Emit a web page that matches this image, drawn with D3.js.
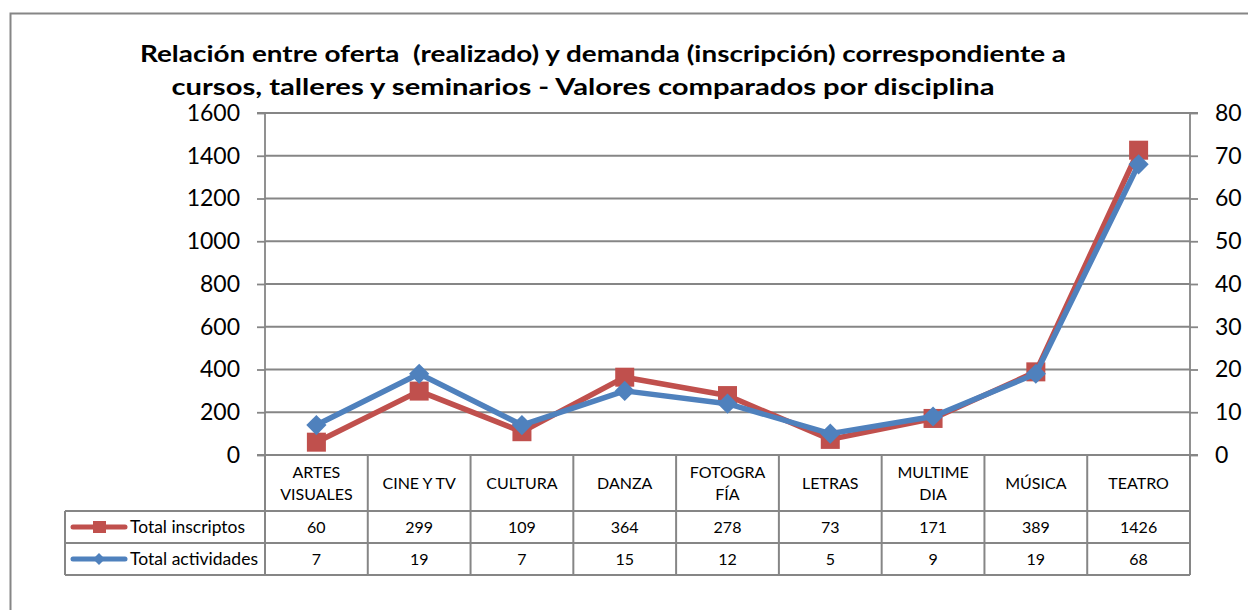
<!DOCTYPE html>
<html>
<head>
<meta charset="utf-8">
<script src="https://cdn.jsdelivr.net/npm/d3@7"></script>
<style>
  html, body { margin: 0; padding: 0; background: #fff; }
  svg { display: block; font-family: Lato, "Open Sans", sans-serif; }
  .title { white-space: pre; }
</style>
</head>
<body>
<svg id="chart" width="1248" height="610"></svg>
<script>
const categories = [["ARTES", "VISUALES"], ["CINE Y TV"], ["CULTURA"], ["DANZA"], ["FOTOGRA", "FÍA"], ["LETRAS"], ["MULTIME", "DIA"], ["MÚSICA"], ["TEATRO"]];
const inscriptos = [60, 299, 109, 364, 278, 73, 171, 389, 1426];
const actividades = [7, 19, 7, 15, 12, 5, 9, 19, 68];
const leftTicks = [0, 200, 400, 600, 800, 1000, 1200, 1400, 1600];
const rightTicks = [0, 10, 20, 30, 40, 50, 60, 70, 80];
const titleLines = ["Relación entre oferta  (realizado) y demanda (inscripción) correspondiente a", "cursos, talleres y seminarios - Valores comparados por disciplina"];
const seriesNames = ["Total inscriptos", "Total actividades"];

const svg = d3.select("#chart");
const gridColor = "#868686";
const red = "#C0504D", blue = "#4F81BD";

const L = 265, R = 1190, T = 113, B = 455;
const tableLeft = 65, headerBottom = 511, row1Bottom = 543, row2Bottom = 575;

// outer chart border
svg.append("rect").attr("x", 10.5).attr("y", 13.5).attr("width", 1300).attr("height", 700)
  .attr("fill", "none").attr("stroke", gridColor).attr("stroke-width", 2);

// title
svg.append("g").selectAll("text").data(titleLines).join("text")
  .attr("class", "title")
  .attr("x", (d, i) => i === 0 ? 603 : 583)
  .attr("y", (d, i) => 62 + i * 33)
  .attr("text-anchor", "middle")
  .attr("font-size", 22).attr("font-weight", "bold").attr("fill", "#000")
  .attr("textLength", (d, i) => i === 0 ? 926 : 823)
  .attr("lengthAdjust", "spacingAndGlyphs")
  .text(d => d);

const x = d3.scaleBand().domain(d3.range(categories.length)).range([L, R]).padding(0);
const yL = d3.scaleLinear().domain([0, 1600]).range([B, T]);
const yR = d3.scaleLinear().domain([0, 80]).range([B, T]);

// gridlines
svg.append("g").selectAll("line").data(leftTicks).join("line")
  .attr("x1", L).attr("x2", R)
  .attr("y1", d => yL(d)).attr("y2", d => yL(d))
  .attr("stroke", gridColor).attr("stroke-width", 1.8);

// left axis
const axL = svg.append("g").attr("transform", `translate(${L},0)`)
  .call(d3.axisLeft(yL).tickValues(leftTicks).tickSize(8).tickPadding(17).tickFormat(d3.format("d")));
axL.select(".domain").attr("stroke", gridColor).attr("stroke-width", 1.8).attr("d", `M-8,${B}H0V${T}H-8`);
axL.selectAll(".tick line").attr("stroke", gridColor).attr("stroke-width", 1.8);
axL.selectAll(".tick text").attr("font-size", 23).attr("fill", "#000").attr("font-family", "Lato, sans-serif");

// right axis
const axR = svg.append("g").attr("transform", `translate(${R},0)`)
  .call(d3.axisRight(yR).tickValues(rightTicks).tickSize(8).tickPadding(17).tickFormat(d3.format("d")));
axR.select(".domain").attr("stroke", gridColor).attr("stroke-width", 1.8).attr("d", `M8,${B}H0V${T}H8`);
axR.selectAll(".tick line").attr("stroke", gridColor).attr("stroke-width", 1.8);
axR.selectAll(".tick text").attr("font-size", 23).attr("fill", "#000").attr("font-family", "Lato, sans-serif");

// data table
const tg = svg.append("g");
const lineAttrs = sel => sel.attr("stroke", gridColor).attr("stroke-width", 2);
tg.append("line").attr("x1", tableLeft).attr("x2", R).attr("y1", headerBottom).attr("y2", headerBottom).call(lineAttrs);
tg.append("line").attr("x1", tableLeft).attr("x2", R).attr("y1", row1Bottom).attr("y2", row1Bottom).call(lineAttrs);
tg.append("line").attr("x1", tableLeft).attr("x2", R).attr("y1", row2Bottom).attr("y2", row2Bottom).call(lineAttrs);
tg.append("line").attr("x1", tableLeft).attr("x2", tableLeft).attr("y1", headerBottom).attr("y2", row2Bottom).call(lineAttrs);
const bounds = d3.range(categories.length + 1).map(i => i < categories.length ? x(i) : R);
tg.selectAll("line.v").data(bounds).join("line").attr("class", "v")
  .attr("x1", d => d).attr("x2", d => d).attr("y1", B).attr("y2", row2Bottom).call(lineAttrs);

// header labels
const hdr = tg.append("g").selectAll("text").data(categories).join("text")
  .attr("text-anchor", "middle").attr("font-size", 16).attr("fill", "#000")
  .attr("x", (d, i) => x(i) + x.bandwidth() / 2);
hdr.each(function (d) {
  const t = d3.select(this);
  const y0 = d.length === 1 ? 489 : 478;
  d.forEach((s, j) => t.append("tspan").attr("x", t.attr("x")).attr("y", y0 + j * 22).text(s));
});

// values
const rows = [inscriptos, actividades];
rows.forEach((vals, r) => {
  tg.append("g").selectAll("text").data(vals).join("text")
    .attr("text-anchor", "middle").attr("font-size", 16).attr("fill", "#000")
    .attr("x", (d, i) => x(i) + x.bandwidth() / 2)
    .attr("y", (r === 0 ? headerBottom : row1Bottom) + 21.5)
    .text(d => d);
});

// legend keys in table
const keyColors = [red, blue];
seriesNames.forEach((name, r) => {
  const cy = r === 0 ? (headerBottom + row1Bottom) / 2 : (row1Bottom + row2Bottom) / 2;
  tg.append("line").attr("x1", 73).attr("x2", 125).attr("y1", cy).attr("y2", cy)
    .attr("stroke", keyColors[r]).attr("stroke-width", 5).attr("stroke-linecap", "round");
  if (r === 0) {
    tg.append("rect").attr("x", 93).attr("y", cy - 6).attr("width", 13).attr("height", 12).attr("fill", red);
  } else {
    tg.append("path").attr("d", d3.symbol(d3.symbolDiamond2, 90)()).attr("transform", `translate(99,${cy})`).attr("fill", blue);
  }
  tg.append("text").attr("x", 130).attr("y", cy + 6).attr("font-size", 16.5).attr("fill", "#000")
    .attr("textLength", r === 0 ? 115 : 128).attr("lengthAdjust", "spacingAndGlyphs").text(name);
});

// series lines
const cx = i => x(i) + x.bandwidth() / 2;
const lineRed = d3.line().x((d, i) => cx(i)).y(d => yL(d));
const lineBlue = d3.line().x((d, i) => cx(i)).y(d => yR(d));

svg.append("path").datum(inscriptos).attr("d", lineRed)
  .attr("fill", "none").attr("stroke", red).attr("stroke-width", 5.5).attr("stroke-linejoin", "round");
svg.append("g").selectAll("rect").data(inscriptos).join("rect")
  .attr("x", (d, i) => cx(i) - 9.5).attr("y", d => yL(d) - 9.5)
  .attr("width", 19).attr("height", 19).attr("fill", red);

svg.append("path").datum(actividades).attr("d", lineBlue)
  .attr("fill", "none").attr("stroke", blue).attr("stroke-width", 5.5).attr("stroke-linejoin", "round");
svg.append("g").selectAll("path").data(actividades).join("path")
  .attr("d", d3.symbol(d3.symbolDiamond2, 260)())
  .attr("transform", (d, i) => `translate(${cx(i)},${yR(d)})`)
  .attr("fill", blue);
</script>
</body>
</html>
